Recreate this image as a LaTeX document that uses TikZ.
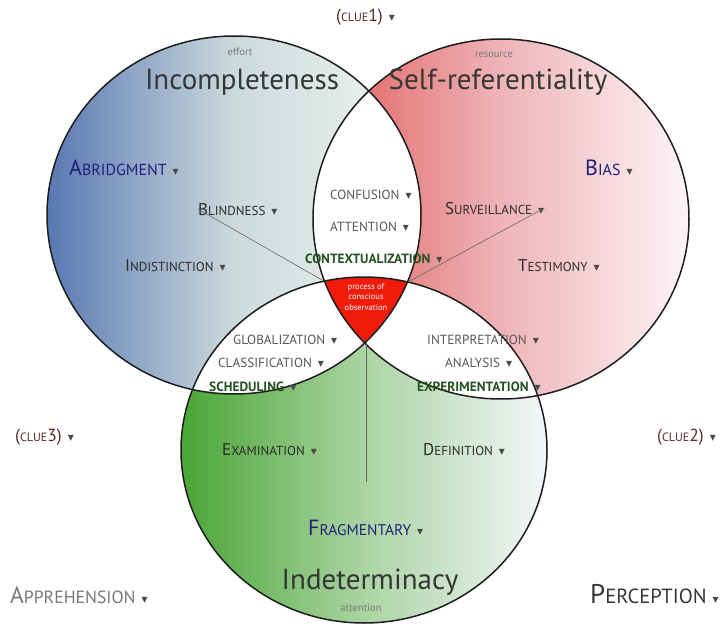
\documentclass[tikz,border=0pt]{standalone}
\usepackage{fontspec}
\setmainfont{PT Sans}
\newfontfamily\symfont{DejaVu Sans}

\definecolor{Lleft}{HTML}{5878B2}
\definecolor{Lmid}{HTML}{CCDADC}
\definecolor{Lright}{HTML}{F3F6F1}
\definecolor{Rleft}{HTML}{E05A58}
\definecolor{Rmid}{HTML}{EEB4B8}
\definecolor{Rright}{HTML}{FDF4F8}
\definecolor{Bleft}{HTML}{4AA536}
\definecolor{Bmid}{HTML}{AAD4A2}
\definecolor{Bright}{HTML}{F4F6FB}
\definecolor{core}{HTML}{F11B0B}
\definecolor{rim}{HTML}{1E1E1E}
\definecolor{navy}{HTML}{22207A}
\definecolor{ink}{HTML}{2E2A2A}
\definecolor{soft}{HTML}{5A5656}
\definecolor{leaf}{HTML}{245220}
\definecolor{clue}{HTML}{5A2828}
\definecolor{title}{HTML}{363636}
\definecolor{note}{HTML}{7A7A7A}
\definecolor{tri}{HTML}{4A4A4A}

% small capitals: first letter at the node size, the rest smaller
\newcommand\smc[3]{#1{\fontsize{#3}{#3}\selectfont #2}}
% drop-down marker after a label
\newcommand\dd{\hspace{6pt}{\symfont\fontsize{12}{12}\selectfont\color{tri}▾}}

\def\circL{(234,215) ellipse [x radius=187pt, y radius=179pt]}
\def\circR{(501,219) ellipse [x radius=188pt, y radius=180pt]}
\def\circB{(364,450) ellipse [x radius=183pt, y radius=173pt]}

\tikzset{
  lab/.style={anchor=base west, inner sep=0pt},
  big/.style={lab, text=navy, font=\fontsize{22}{22}\selectfont},
  mid/.style={lab, text=ink, font=\fontsize{17}{17}\selectfont},
  small/.style={lab, text=soft, font=\fontsize{13.2}{13.2}\selectfont},
  green/.style={lab, text=leaf, font=\bfseries\fontsize{13.4}{13.4}\selectfont},
  cluelab/.style={lab, text=clue, font=\fontsize{17.5}{17.5}\selectfont},
  heading/.style={anchor=base, inner sep=0pt, text=title, font=\fontsize{29}{29}\selectfont},
  subhead/.style={anchor=base, inner sep=0pt, text=note, font=\fontsize{10.5}{10.5}\selectfont},
  axis/.style={draw=black!60, line width=0.6pt},
  rimline/.style={draw=rim, line width=1.5pt}
}

\begin{document}
\begin{tikzpicture}[x=1pt, y=-1pt]
\useasboundingbox[fill=white] (0,0) rectangle (726,626);

% shaded circles
\shade[left color=Lleft, right color=Lright, middle color=Lmid] \circL;
\shade[left color=Rleft, right color=Rright, middle color=Rmid] \circR;
\shade[left color=Bleft, right color=Bright, middle color=Bmid] \circB;

% pairwise overlaps in white
\begin{scope}
  \clip \circL;
  \fill[white] \circR;
  \fill[white] \circB;
\end{scope}
\begin{scope}
  \clip \circR;
  \fill[white] \circB;
\end{scope}
% common core
\begin{scope}
  \clip \circL;
  \clip \circR;
  \fill[core] \circB;
\end{scope}

\draw[rimline] \circL;
\draw[rimline] \circR;
\draw[rimline] \circB;

% corners of the core and the lower end of the axis
\coordinate (tl) at (322,280);
\coordinate (tr) at (408,282);
\coordinate (bv) at (366,343);
\coordinate (vend) at (366,482);

% headings
\node[subhead] (effort) at (240,56) {effort};
\node[heading] (incomp) at (242,89) {Incompleteness};
\node[subhead] (resource) at (494,58) {resource};
\node[heading] (selfref) at (498,90) {Self-referentiality};
\node[heading] (indet) at (370,589) {Indeterminacy};
\node[subhead] (attn2) at (361,611) {attention};

\node[inner sep=0pt, align=center, text=white, font=\fontsize{8.5}{10.5}\selectfont] (core) at (366,297) {process of\\conscious\\observation};

% labels
\node[cluelab] (clue1) at (336,22) {(\smc{}{CLUE}{12}1)\dd};
\node[cluelab] (clue3) at (15,441) {(\smc{}{CLUE}{12}3)\dd};
\node[cluelab] (clue2) at (657,441) {(\smc{}{CLUE}{12}2)\dd};

\node[big] (abr) at (69,175) {\smc{A}{BRIDGMENT}{16}\dd};
\node[big] (bias) at (585,175) {\smc{B}{IAS}{16}\dd};
\node[big] (frag) at (308,535) {\smc{F}{RAGMENTARY}{15.5}\dd};

\node[mid] (blind) at (198,215) {\smc{B}{LINDNESS}{13}\dd};
\node[mid] (indist) at (125,271) {\smc{I}{NDISTINCTION}{13}\dd};
\node[mid] (surv) at (445,214) {\smc{S}{URVEILLANCE}{13}\dd};
\node[mid] (testi) at (518,271) {\smc{T}{ESTIMONY}{13}\dd};
\node[mid] (exam) at (222,455) {\smc{E}{XAMINATION}{13}\dd};
\node[mid] (defi) at (423,455) {\smc{D}{EFINITION}{13}\dd};

\node[small] (conf) at (330,199) {CONFUSION\dd};
\node[small] (attn) at (330,231) {ATTENTION\dd};
\node[small] (glob) at (233,344) {GLOBALIZATION\dd};
\node[small] (class) at (218,367) {CLASSIFICATION\dd};
\node[small] (interp) at (427,344) {INTERPRETATION\dd};
\node[small] (anal) at (445,367) {ANALYSIS\dd};

\node[green] (context) at (305,263) {CONTEXTUALIZATION\dd};
\node[green] (sched) at (209,391) {SCHEDULING\dd};
\node[green] (exper) at (417,391) {EXPERIMENTATION\dd};

\node[lab, text=note, font=\fontsize{23.5}{23.5}\selectfont] (appr) at (10,603) {\smc{A}{PPREHENSION}{17.7}\dd};
\node[lab, text=title, font=\fontsize{27}{27}\selectfont] (perc) at (590,603) {\smc{P}{ERCEPTION}{20.5}\dd};

% axes to the core
\draw[axis] (blind.west) -- (tl);
\draw[axis] (surv.east) -- (tr);
\draw[axis] (bv) -- (vend);
\end{tikzpicture}
\end{document}
